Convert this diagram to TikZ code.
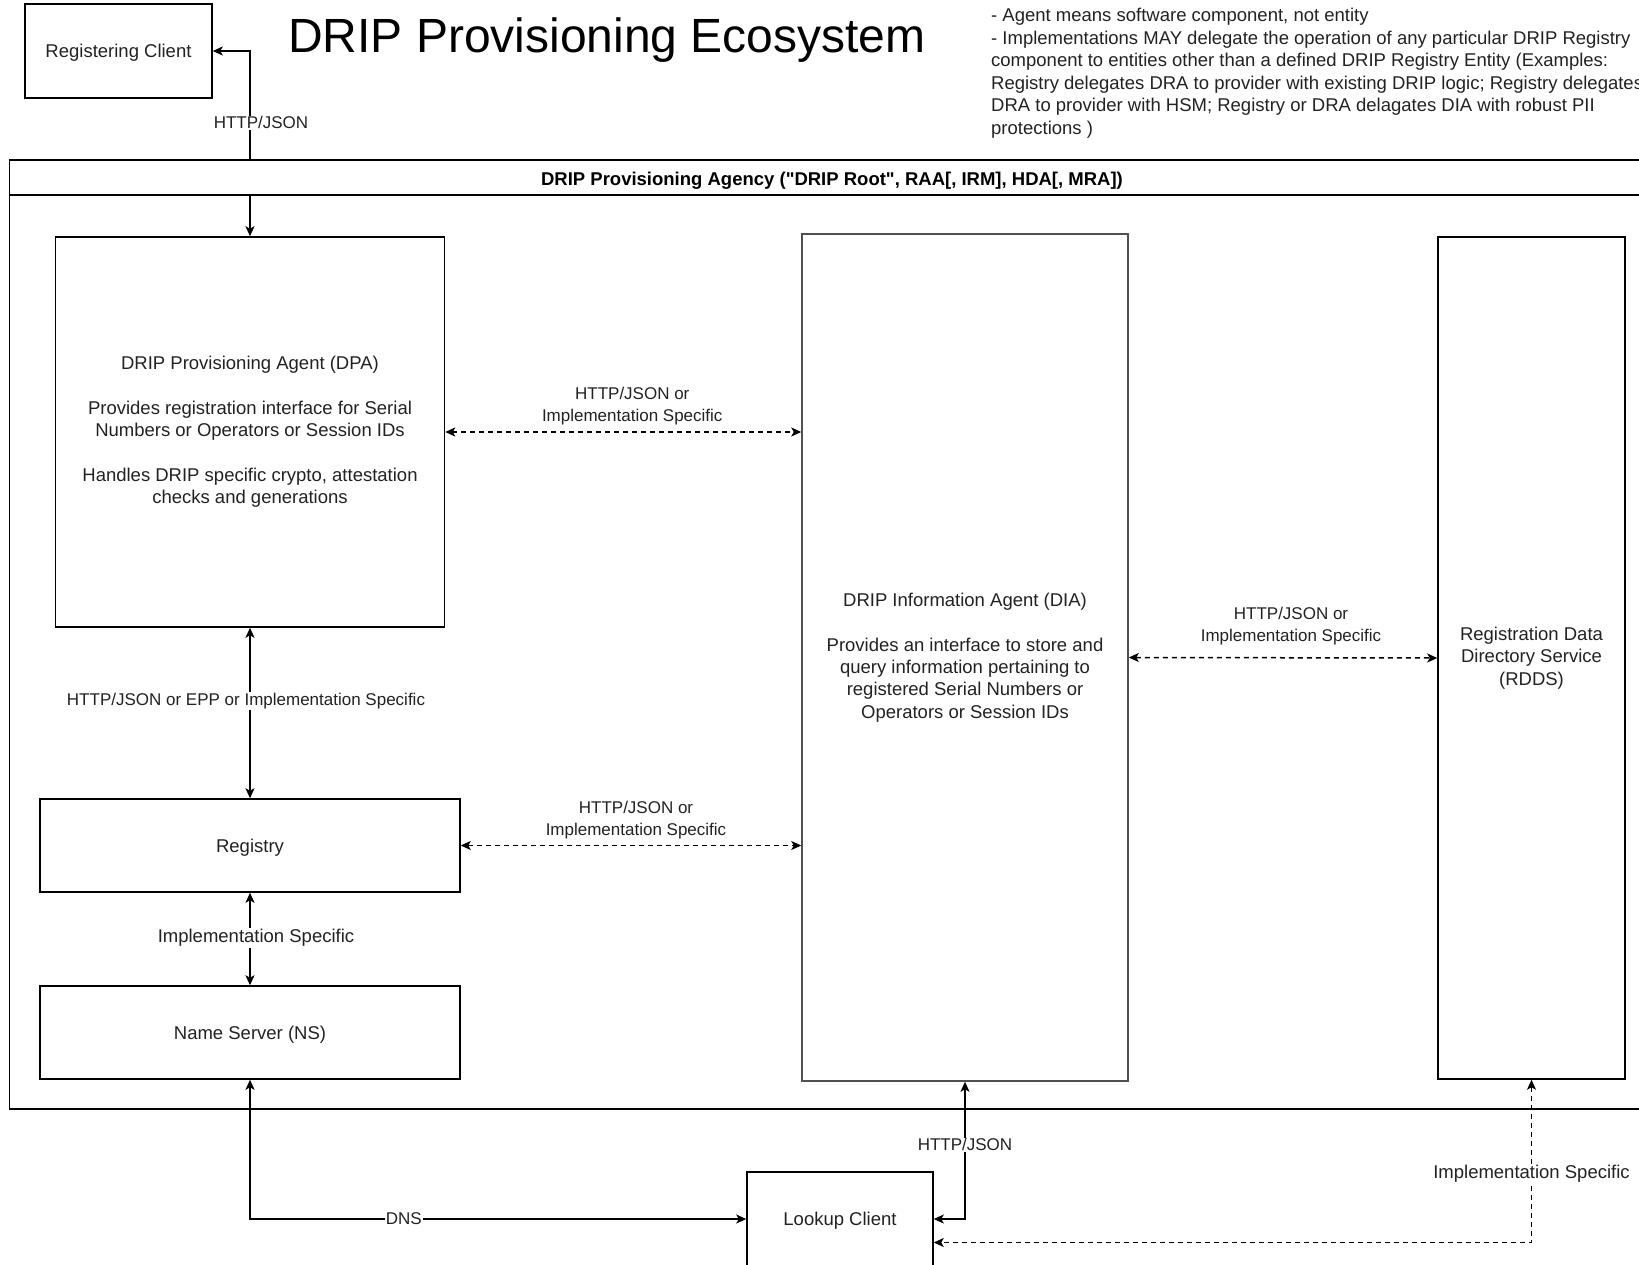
\documentclass[tikz,border=0pt]{standalone}
\usepackage{fontspec}
\setmainfont{Liberation Sans}[Ligatures=TeXOff]
\usetikzlibrary{arrows.meta,calc}
\definecolor{txt}{HTML}{222222}
\begin{document}
\begin{tikzpicture}[x=1pt,y=-1pt,
  >={Stealth[length=10pt,width=9pt,inset=2.5pt]},
  box/.style={draw=black, line width=1.5pt, fill=white, rectangle, inner sep=0pt, align=center, text=txt, font=\fontsize{18.5}{22.3}\selectfont, execute at begin node={\rule{0pt}{17.5pt}}},
  conn/.style={line width=1.5pt, <->},
  dconn/.style={conn, dash pattern=on 5pt off 4pt},
  elabel/.style={font=\fontsize{17}{21.8}\selectfont, text=txt, align=center, inner sep=1pt},
  elabelw/.style={elabel, fill=white},
  biglabel/.style={elabelw, font=\fontsize{18.5}{22}\selectfont},
]
\useasboundingbox (0,0) rectangle (1639,1265);
\clip (0,0) rectangle (1639,1265);

% title and notes
\node[font=\fontsize{48}{56}\selectfont, text=black, inner sep=0pt] (title) at (607,40) {DRIP Provisioning Ecosystem};
\node[font=\fontsize{18.5}{22.6}\selectfont, text=txt, align=left, inner sep=0pt, anchor=north west] (notes) at (991,7.8) {%
- Agent means software component, not entity\\
- Implementations MAY delegate the operation of any particular DRIP Registry\\
component to entities other than a defined DRIP Registry Entity (Examples:\\
Registry delegates DRA to provider with existing DRIP logic; Registry delegates\\
DRA to provider with HSM; Registry or DRA delagates DIA with robust PII\\
protections )};

% agency container
\node[draw=black, line width=1.5pt, rectangle, inner sep=0pt, minimum width=1650.5pt, minimum height=949pt] (agency) at (834.75,634.5) {};

% boxes
\node[box, minimum width=187pt, minimum height=94pt] (RegClient) at (118.5,51) {Registering Client};
\node[box, minimum width=389pt, minimum height=390pt] (DPA) at (250,432) {DRIP Provisioning Agent (DPA)\\[22.3pt]Provides registration interface for Serial\\Numbers or Operators or Session IDs\\[22.3pt]Handles DRIP specific crypto, attestation\\checks and generations};
\node[box, draw={rgb,255:red,80;green,80;blue,80}, minimum width=326pt, minimum height=847pt] (DIA) at (965,657.5) {DRIP Information Agent (DIA)\\[22.3pt]Provides an interface to store and\\query information pertaining to\\registered Serial Numbers or\\Operators or Session IDs};
\node[box, minimum width=187pt, minimum height=842pt] (RDDS) at (1531.5,658) {Registration Data\\Directory Service\\(RDDS)};
\node[box, minimum width=420pt, minimum height=93pt] (Registry) at (250,845.5) {Registry};
\node[box, minimum width=420pt, minimum height=93pt] (NS) at (250,1032.5) {Name Server (NS)};
\node[box, minimum width=186pt, minimum height=94pt] (Lookup) at (840,1219) {Lookup Client};

% connectors
\draw[conn] (DPA.north) |- node[elabelw, pos=0.306, xshift=11pt] (l1) {HTTP/JSON} (RegClient.east);
\draw[dconn] (DPA.east) -- node[elabel, midway, yshift=26pt, xshift=9pt] (l2) {HTTP/JSON or\\Implementation Specific} (DPA.east -| DIA.west);
\draw[dconn] (Registry.east) -- node[elabel, midway, yshift=25pt, xshift=5pt] (l3) {HTTP/JSON or\\Implementation Specific} (Registry.east -| DIA.west);
\draw[dconn] (DIA.east) -- node[elabel, midway, yshift=32pt, xshift=8pt] (l4) {HTTP/JSON or\\Implementation Specific} (RDDS.west);
\draw[conn] (DPA.south) -- node[elabelw, pos=0.43, xshift=-4pt] (l5) {HTTP/JSON or EPP or Implementation Specific} (Registry.north);
\draw[conn] (Registry.south) -- node[biglabel, midway, yshift=1pt, xshift=6pt] (l6) {Implementation Specific} (NS.north);
\draw[conn] (NS.south) |- node[elabelw, pos=0.655] (l7) {DNS} (Lookup.west);
\draw[conn] (DIA.south) |- node[elabelw, pos=0.23] (l8) {HTTP/JSON} (Lookup.east);
\draw[dconn] (RDDS.south) |- node[biglabel, pos=0.29] (l9) {Implementation Specific} ([yshift=-23.5pt]Lookup.east);

% agency header drawn over the connector
\node[draw=black, line width=1.5pt, fill=white, rectangle, inner sep=0pt, minimum width=1650.5pt, minimum height=35pt, text=black, font=\bfseries\fontsize{18.5}{22}\selectfont] (agencyhead) at (834.75,177.5) {\hspace*{-5.5pt}\rule{0pt}{19pt}DRIP Provisioning Agency ("DRIP Root", RAA[, IRM], HDA[, MRA])};
\end{tikzpicture}
\end{document}
